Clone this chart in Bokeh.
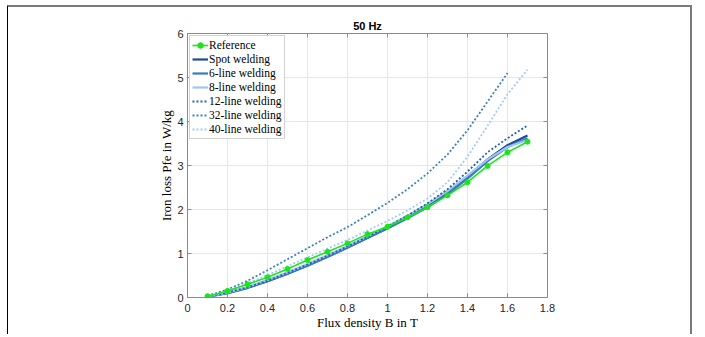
from bokeh.plotting import figure
from bokeh.models import Range1d, FixedTicker
from bokeh.embed import file_html
from bokeh.resources import INLINE

# ---- data ----
B = [0.1, 0.2, 0.3, 0.4, 0.5, 0.6, 0.7, 0.8, 0.9, 1.0, 1.1, 1.2, 1.3, 1.4, 1.5, 1.6, 1.7]
B32 = [0.1, 0.2, 0.3, 0.4, 0.5, 0.6, 0.7, 0.8, 0.9, 1.0, 1.1, 1.2, 1.3, 1.4, 1.5, 1.6]
P_ref = [0.03, 0.15, 0.30, 0.46, 0.65, 0.85, 1.04, 1.23, 1.44, 1.61, 1.82, 2.05, 2.32, 2.62, 2.99, 3.30, 3.54]
P_spot = [0.02, 0.10, 0.22, 0.37, 0.54, 0.73, 0.93, 1.14, 1.36, 1.58, 1.82, 2.08, 2.38, 2.74, 3.14, 3.46, 3.68]
P_6 = [0.02, 0.10, 0.22, 0.37, 0.54, 0.72, 0.92, 1.13, 1.35, 1.57, 1.80, 2.05, 2.35, 2.70, 3.10, 3.42, 3.62]
P_8 = [0.02, 0.11, 0.24, 0.40, 0.57, 0.76, 0.96, 1.17, 1.39, 1.62, 1.86, 2.12, 2.42, 2.77, 3.14, 3.42, 3.58]
P_12 = [0.02, 0.11, 0.23, 0.38, 0.56, 0.75, 0.95, 1.16, 1.38, 1.61, 1.86, 2.14, 2.46, 2.86, 3.30, 3.62, 3.91]
P_32 = [0.04, 0.18, 0.38, 0.62, 0.87, 1.12, 1.37, 1.60, 1.87, 2.15, 2.46, 2.82, 3.25, 3.80, 4.45, 5.10]
P_40 = [0.03, 0.15, 0.32, 0.51, 0.71, 0.91, 1.11, 1.31, 1.52, 1.74, 1.98, 2.25, 2.62, 3.20, 3.90, 4.62, 5.18]

x_ticks = [0, 0.2, 0.4, 0.6, 0.8, 1.0, 1.2, 1.4, 1.6, 1.8]
y_ticks = [0, 1, 2, 3, 4, 5, 6]
x_tick_labels = {0: "0", 0.2: "0.2", 0.4: "0.4", 0.6: "0.6", 0.8: "0.8", 1.0: "1",
                 1.2: "1.2", 1.4: "1.4", 1.6: "1.6", 1.8: "1.8"}

title = "50 Hz"
x_label = "Flux density B in T"
y_label = "Iron loss Pfe in W/kg"
labels = ["Reference", "Spot welding", "6-line welding", "8-line welding",
          "12-line welding", "32-line welding", "40-line welding"]

# ---- figure ----
p = figure(width=685, height=329, output_backend="svg", toolbar_location=None,
           x_range=Range1d(0, 1.8), y_range=Range1d(0, 6),
           min_border_left=179, min_border_right=146, min_border_top=26, min_border_bottom=39,
           title=title)
p.styles = {"margin-left": "7px", "margin-top": "5px",
            "border-left": "1px solid #000000", "border-top": "2px solid #7a7a7a",
            "border-right": "2px solid #7a7a7a"}
p.title.align = "center"
p.title.vertical_align = "top"
p.title.text_font = "Liberation Sans"
p.title.text_font_size = "11px"
p.title.text_font_style = "bold"
p.title.text_color = "#000000"
p.title.standoff = 0

AX = "#8a8a8a"
TXT = "#262626"

for ax in [p.xaxis[0], p.yaxis[0]]:
    ax.axis_line_color = AX
    ax.major_tick_line_color = AX
    ax.major_tick_in = 4
    ax.major_tick_out = 0
    ax.minor_tick_line_color = None
    ax.major_label_text_font = "Liberation Sans"
    ax.major_label_text_font_size = "11px"
    ax.major_label_text_color = TXT
    ax.axis_label_text_font = "Liberation Serif"
    ax.axis_label_text_font_size = "13px"
    ax.axis_label_text_font_style = "normal"
    ax.axis_label_text_color = "#000000"

p.xaxis[0].major_label_standoff = 6
p.yaxis[0].major_label_standoff = 4
p.xaxis[0].axis_label_standoff = 0
p.yaxis[0].axis_label_standoff = 0
p.xaxis[0].axis_label = x_label
p.yaxis[0].axis_label = y_label

p.xaxis[0].ticker = FixedTicker(ticks=x_ticks)
p.xaxis[0].major_label_overrides = x_tick_labels
p.yaxis[0].ticker = FixedTicker(ticks=y_ticks)

p.xgrid.ticker = FixedTicker(ticks=x_ticks)
p.ygrid.ticker = FixedTicker(ticks=y_ticks)
p.grid.grid_line_color = "#e6e6e6"
p.outline_line_color = AX

# inward ticks on the top and right sides of the box
p.segment(x0=x_ticks, x1=x_ticks, y0=[6] * len(x_ticks), y1=[6 - 0.09] * len(x_ticks),
          line_color=AX, line_width=1)
p.segment(x0=[1.8] * len(y_ticks), x1=[1.8 - 0.02] * len(y_ticks), y0=y_ticks, y1=y_ticks,
          line_color=AX, line_width=1)

# ---- series ----
c_spot = "#1b4b93"
c_6 = "#3a78bf"
c_8 = "#9fc5ee"
c_12 = "#2461ad"
c_32 = "#3f7fc5"
c_40 = "#a5cbf1"
green = "#19e619"

p.line(B, P_spot, line_color=c_spot, line_width=2.2, legend_label=labels[1])
p.line(B, P_6, line_color=c_6, line_width=2.2, legend_label=labels[2])
p.line(B, P_8, line_color=c_8, line_width=2.2, legend_label=labels[3])
p.line(B, P_12, line_color=c_12, line_width=1.8, line_dash="2 2", legend_label=labels[4])
p.line(B32, P_32, line_color=c_32, line_width=1.8, line_dash="2 2", legend_label=labels[5])
p.line(B, P_40, line_color=c_40, line_width=1.8, line_dash="2 2", legend_label=labels[6])
p.line(B, P_ref, line_color=green, line_width=1.6, legend_label=labels[0])
p.scatter(B, P_ref, size=5, marker="circle", fill_color=green, line_color=green, legend_label=labels[0])

lg = p.legend[0]
items = list(lg.items)
ref_item = [it for it in items if it.label.value == labels[0]][0]
others = [it for it in items if it.label.value != labels[0]]
lg.items = [ref_item] + others
lg.location = "top_left"
lg.margin = 2
lg.padding = 2
lg.spacing = 0
lg.label_height = 14
lg.glyph_height = 14
lg.glyph_width = 16
lg.label_standoff = 1
lg.label_text_font = "Liberation Serif"
lg.label_text_font_size = "11.5px"
lg.label_text_line_height = 1.0
lg.label_text_color = "#000000"
lg.border_line_color = "#a6a6a6"
lg.border_line_width = 1
lg.background_fill_alpha = 1.0

open("out.html", "w").write(file_html(p, INLINE))
